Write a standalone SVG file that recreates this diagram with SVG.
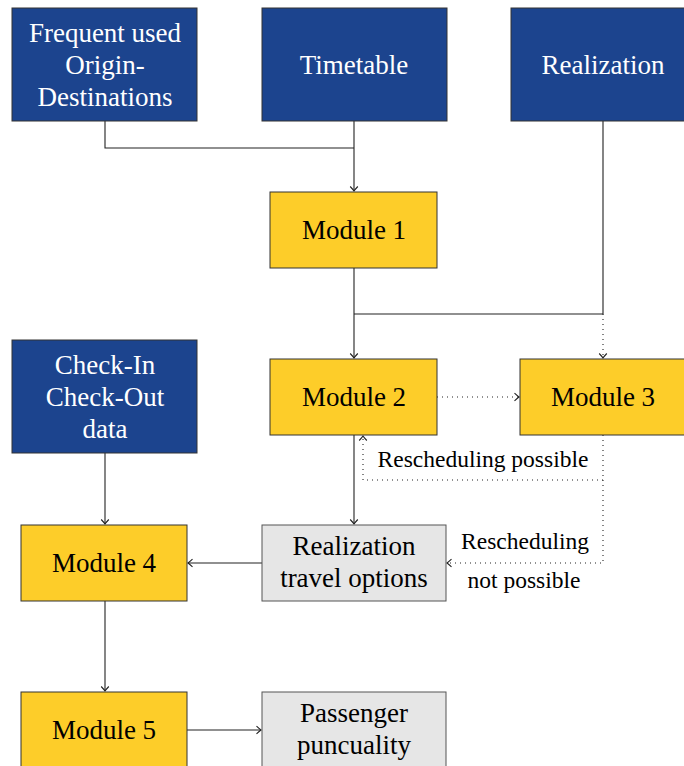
<svg xmlns="http://www.w3.org/2000/svg" width="684" height="766" viewBox="0 0 684 766" font-family="Liberation Serif" text-anchor="middle">
<style>
.n{font-size:27px}
.w{fill:#ffffff}
.k{fill:#000000}
.lbl{font-size:23.5px;fill:#000}
.blue{fill:#1c448e;stroke:#333;stroke-width:1}
.yel{fill:#fdcd29;stroke:#333;stroke-width:1}
.gry{fill:#e6e6e6;stroke:#555;stroke-width:1}
.c{fill:none;stroke:#222;stroke-width:1.1}
.d{fill:none;stroke:#222;stroke-width:1.1;stroke-dasharray:1 4}
</style>
<defs>
<marker id="ar" viewBox="-6 -5 8 10" refX="0" refY="0" markerWidth="8" markerHeight="10" markerUnits="userSpaceOnUse" orient="auto">
<path d="M-4.5,-3.8 Q-1.5,-1 0,0 Q-1.5,1 -4.5,3.8" fill="none" stroke="#222" stroke-width="1.1"/>
</marker>
</defs>
<g id="connectors">
<path class="c" d="M105,121 V148 H354"/>
<path class="c" d="M354,121 V191" marker-end="url(#ar)"/>
<path class="c" d="M354,268 V358" marker-end="url(#ar)"/>
<path class="c" d="M603,121 V314 H354"/>
<path class="d" d="M603,314 V358" marker-end="url(#ar)"/>
<path class="d" d="M437,397 H519" marker-end="url(#ar)"/>
<path class="c" d="M354,435 V524" marker-end="url(#ar)"/>
<path class="d" d="M603,435 V480 H363 V436" marker-end="url(#ar)"/>
<path class="d" d="M603,480 V563 H447" marker-end="url(#ar)"/>
<path class="c" d="M262,563 H188" marker-end="url(#ar)"/>
<path class="c" d="M105,453 V524" marker-end="url(#ar)"/>
<path class="c" d="M105,601 V691" marker-end="url(#ar)"/>
<path class="c" d="M187,730 H261" marker-end="url(#ar)"/>
<text class="lbl" x="483" y="467">Rescheduling possible</text>
<text class="lbl" x="525" y="549">Rescheduling</text>
<text class="lbl" x="524" y="588">not possible</text>
</g>
<g id="frequent">
<rect class="blue" x="12" y="8" width="185" height="113"/>
<text class="n w" x="105" y="42">Frequent used</text>
<text class="n w" x="105" y="74">Origin-</text>
<text class="n w" x="105" y="106">Destinations</text>
</g>
<g id="timetable">
<rect class="blue" x="262" y="8" width="185" height="113"/>
<text class="n w" x="354" y="74">Timetable</text>
</g>
<g id="realization">
<rect class="blue" x="511" y="8" width="185" height="113"/>
<text class="n w" x="603" y="74">Realization</text>
</g>
<g id="module1">
<rect class="yel" x="270" y="192" width="167" height="76"/>
<text class="n k" x="354" y="239">Module 1</text>
</g>
<g id="module2">
<rect class="yel" x="270" y="359" width="167" height="76"/>
<text class="n k" x="354" y="406">Module 2</text>
</g>
<g id="module3">
<rect class="yel" x="520" y="359" width="167" height="76"/>
<text class="n k" x="603" y="406">Module 3</text>
</g>
<g id="checkin">
<rect class="blue" x="12" y="340" width="185" height="113"/>
<text class="n w" x="105" y="374">Check-In</text>
<text class="n w" x="105" y="406">Check-Out</text>
<text class="n w" x="105" y="438">data</text>
</g>
<g id="module4">
<rect class="yel" x="21" y="525" width="166" height="76"/>
<text class="n k" x="104" y="572">Module 4</text>
</g>
<g id="travel">
<rect class="gry" x="262" y="525" width="184" height="76"/>
<text class="n k" x="354" y="555">Realization</text>
<text class="n k" x="354" y="587">travel options</text>
</g>
<g id="module5">
<rect class="yel" x="21" y="692" width="166" height="76"/>
<text class="n k" x="104" y="739">Module 5</text>
</g>
<g id="passenger">
<rect class="gry" x="262" y="692" width="184" height="76"/>
<text class="n k" x="354" y="722">Passenger</text>
<text class="n k" x="354" y="754">puncuality</text>
</g>
</svg>
